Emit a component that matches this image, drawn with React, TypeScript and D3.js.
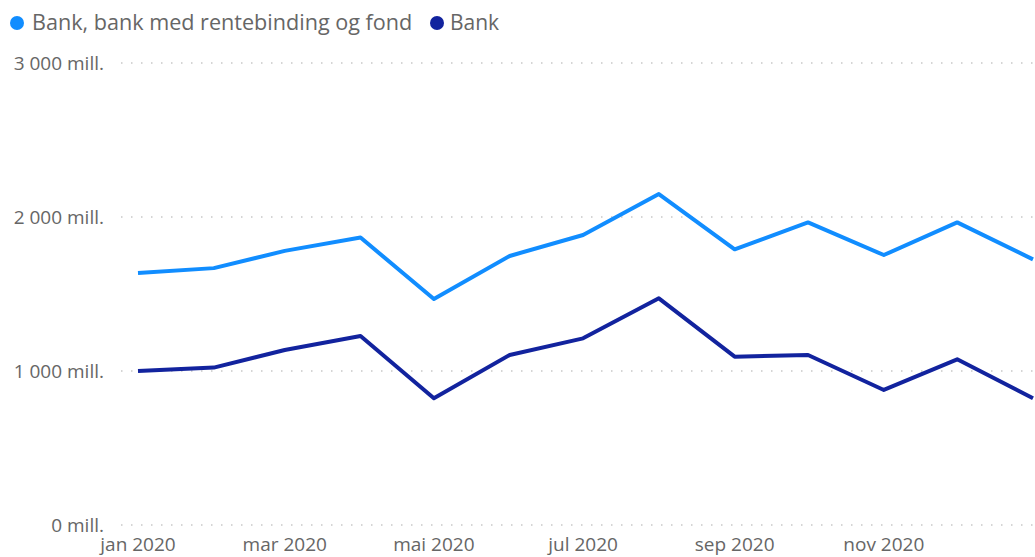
import React from "react";
import * as d3 from "d3";

const months = [
  "2020-01", "2020-02", "2020-03", "2020-04", "2020-05", "2020-06", "2020-07",
  "2020-08", "2020-09", "2020-10", "2020-11", "2020-12", "2021-01",
];
const seriesNames = ["Bank, bank med rentebinding og fond", "Bank"];
const bankFond = [1636, 1668, 1780, 1867, 1467, 1747, 1883, 2149, 1790, 1965, 1753, 1965, 1725];
const bank = [1000, 1022, 1136, 1227, 823, 1104, 1212, 1472, 1093, 1104, 877, 1076, 823];
const colors = ["#118DFF", "#12239E"];
const yTicks = [0, 1000, 2000, 3000];
const xTickMonths = ["2020-01", "2020-03", "2020-05", "2020-07", "2020-09", "2020-11"];
const xTickLabels = ["jan 2020", "mar 2020", "mai 2020", "jul 2020", "sep 2020", "nov 2020"];

const W = 1035;
const H = 557;
const FONT = "'Segoe UI', 'Open Sans', sans-serif";
const TEXT = "#666666";

const parse = d3.timeParse("%Y-%m");

export default function App() {
  const dates = months.map((m) => parse(m) as Date);
  const x = d3.scaleTime().domain([dates[0], dates[dates.length - 1]]).range([138, 1033]);
  const y = d3.scaleLinear().domain([0, 3000]).range([525, 63]);
  const line = d3
    .line<number>()
    .x((_, i) => x(dates[i]))
    .y((v) => y(v));
  const fmt = (v: number) => d3.format(",")(v).replace(/,/g, " ") + " mill.";

  return (
    <svg
      width={W}
      height={H}
      style={{ position: "absolute", left: 0, top: 0, background: "#fff" }}
      fontFamily={FONT}
    >
      {/* legend */}
      <g>
        <circle cx={17} cy={23} r={7} fill={colors[0]} />
        <text x={32} y={30} fontSize={21.6} fill={TEXT}>{seriesNames[0]}</text>
        <circle cx={437} cy={23} r={7} fill={colors[1]} />
        <text x={450} y={30} fontSize={21} fill={TEXT}>{seriesNames[1]}</text>
      </g>
      {/* y grid + labels */}
      {yTicks.map((t) => (
        <g key={t}>
          <line
            x1={121}
            x2={W}
            y1={y(t)}
            y2={y(t)}
            stroke="#c8c8c8"
            strokeWidth={1.5}
            strokeDasharray="1.5,8.5"
          />
          <text
            x={104}
            y={y(t)}
            dy="0.35em"
            textAnchor="end"
            fontSize={19}
            fill={TEXT}
          >
            {fmt(t)}
          </text>
        </g>
      ))}
      {/* x labels */}
      {xTickMonths.map((m, i) => (
        <text
          key={m}
          x={x(parse(m) as Date)}
          y={551}
          textAnchor="middle"
          fontSize={19}
          fill={TEXT}
        >
          {xTickLabels[i]}
        </text>
      ))}
      {/* lines */}
      <path d={line(bankFond) || ""} fill="none" stroke={colors[0]} strokeWidth={4} strokeLinejoin="round" />
      <path d={line(bank) || ""} fill="none" stroke={colors[1]} strokeWidth={4} strokeLinejoin="round" />
    </svg>
  );
}
